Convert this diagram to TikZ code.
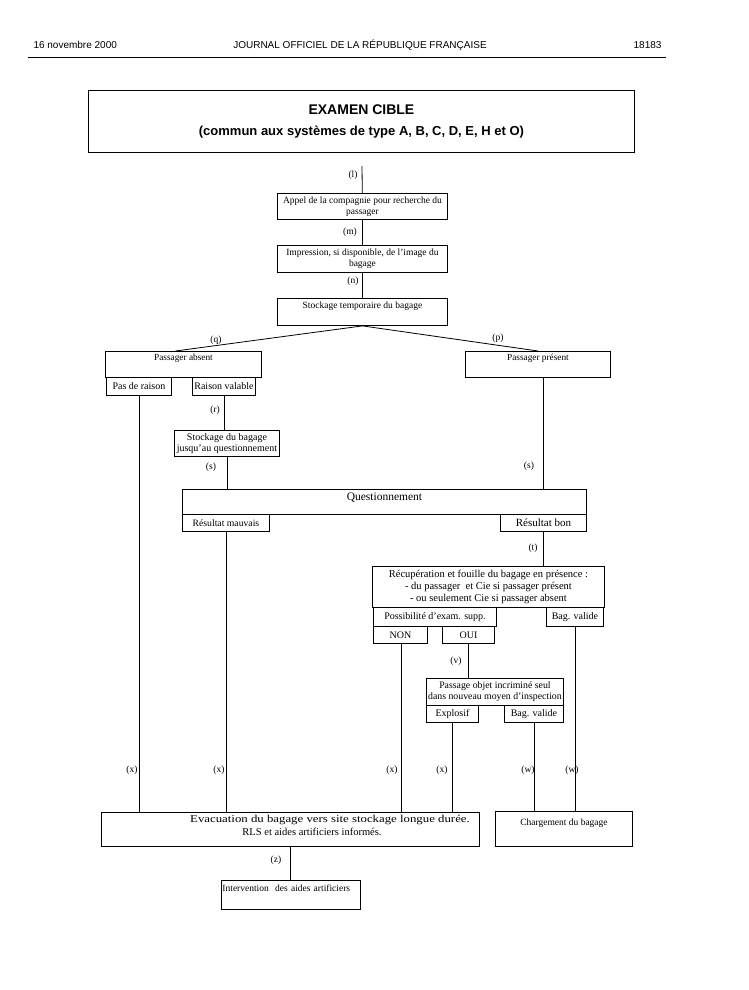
\documentclass[tikz,border=0pt]{standalone}
\usepackage{fontspec}
\setmainfont{Liberation Serif}
\setsansfont{Liberation Sans}
\newcommand\boxfont[1]{\fontsize{#1}{11}\selectfont}
\newcommand\labfont{\fontsize{9.5}{11}\selectfont}
\tikzset{
  box/.style={draw, line width=0.9pt, anchor=north west, inner sep=0.5pt,
    align=center, font=\boxfont{9.5}},
  lab/.style={font=\labfont, inner sep=0pt},
  link/.style={line width=0.8pt},
  entete/.style={font=\sffamily\fontsize{10}{12}\selectfont}
}
\begin{document}
\begin{tikzpicture}[x=1pt,y=-1pt]
  \useasboundingbox (0,0) rectangle (748,990);
  % en-tete de page
  \node[entete, anchor=west] (date) at (30,45) {16 novembre 2000};
  \node[entete] (journal) at (360,45) {JOURNAL OFFICIEL DE LA RÉPUBLIQUE FRANÇAISE};
  \node[entete, anchor=east] (page) at (665,45) {18183};
  \draw[line width=0.8pt] (28,57) -- (666,57);
  % titre
  \node[box, minimum width=546, minimum height=62, font=\sffamily\bfseries\fontsize{13}{21}\selectfont] (titre) at (88,90)
    {{\fontsize{14}{21}\selectfont EXAMEN CIBLE}\\(commun aux systèmes de type A, B, C, D, E, H et O)};
  % boites
  \node[box, minimum width=170, minimum height=26] (appel) at (277,193) {Appel de la compagnie pour recherche du\\passager};
  \node[box, minimum width=170, minimum height=27] (impression) at (277,245) {Impression, si disponible, de l'image du\\bagage};
  \node[box, minimum width=170, minimum height=27] (stockage) at (277,298) {Stockage temporaire du bagage\\\strut};
  \node[box, minimum width=156, minimum height=26, font=\boxfont{9.3}] (absent) at (105,351) {Passager absent\\\strut};
  \node[box, minimum width=65, minimum height=18, font=\boxfont{10}] (pasraison) at (106,377) {Pas de raison};
  \node[box, minimum width=63, minimum height=18, font=\boxfont{10}] (raisonval) at (192,377) {Raison valable};
  \node[box, minimum width=145, minimum height=26, font=\boxfont{9.3}] (present) at (465,351) {Passager présent\\\strut};
  \node[box, minimum width=105, minimum height=26, font=\boxfont{10}] (stockquest) at (174,430) {Stockage du bagage\\jusqu'au questionnement};
  \node[box, minimum width=404, minimum height=25, font=\fontsize{11.5}{12}\selectfont] (quest) at (182,489) {Questionnement\\[-5pt]\strut};
  \node[box, minimum width=87, minimum height=17, font=\boxfont{9.7}] (mauvais) at (182,514) {Résultat mauvais};
  \node[box, minimum width=86, minimum height=17, font=\boxfont{11}] (bon) at (500,514) {Résultat bon};
  \node[box, minimum width=232, minimum height=41, font=\fontsize{10.5}{12}\selectfont] (recup) at (372,566)
    {Récupération et fouille du bagage en présence :\\- du passager\ \ et Cie si passager présent\\- ou seulement Cie si passager absent};
  \node[box, minimum width=123, minimum height=19, font=\boxfont{10}] (possib) at (373,607) {Possibilité d'exam. supp.};
  \node[box, minimum width=57, minimum height=19, font=\boxfont{10}] (bagvalA) at (546,607) {Bag. valide};
  \node[box, minimum width=54, minimum height=17, font=\boxfont{10}] (non) at (373,626) {NON};
  \node[box, minimum width=52, minimum height=17, font=\boxfont{10}] (oui) at (442,626) {OUI};
  \node[box, minimum width=137, minimum height=27, font=\boxfont{9.8}] (passage) at (426,678) {Passage objet incriminé seul\\dans nouveau moyen d'inspection};
  \node[box, minimum width=52, minimum height=17, font=\boxfont{10}] (explosif) at (426,705) {Explosif};
  \node[box, minimum width=59, minimum height=17, font=\boxfont{10}] (bagvalB) at (504,705) {Bag. valide};
  \node[box, minimum width=378, minimum height=34] (evac) at (101,812) {};
  \node[font=\boxfont{10.5}, inner sep=0pt] (evacA) at (330,820) {\scalebox{1.22}[1]{Evacuation du bagage vers site stockage longue durée.}};
  \node[font=\boxfont{10.5}, inner sep=0pt] (evacB) at (312,832) {RLS et aides artificiers informés.};
  \node[box, minimum width=137, minimum height=35] (charg) at (495,811) {Chargement du bagage\\\strut};
  \node[box, minimum width=139, minimum height=29, align=left, text width=137] (interv) at (221,880) {Intervention\ \ des aides artificiers\\\strut};
  % depart libre
  \coordinate (depart) at (362,166);
  % liaisons
  \begin{scope}[link]
    \draw (depart) to (appel);
    \draw (appel) to (impression);
    \draw (impression) to (stockage);
    \draw (stockage.south) to ([xshift=-8pt]absent.north);
    \draw (stockage.south) to (present.north);
    \draw (pasraison) to (pasraison |- evac.north);
    \draw (raisonval) to (raisonval |- stockquest.north);
    \draw (stockquest) to (stockquest |- quest.north);
    \draw (present.south -| bon.north) to (bon.north |- quest.north);
    \draw (mauvais) to (mauvais |- evac.north);
    \draw (bon) to (bon |- recup.north);
    \draw ([xshift=1pt]non.south) to ([xshift=1pt]non.south |- evac.north);
    \draw (oui) to (oui |- passage.north);
    \draw (explosif) to (explosif |- evac.north);
    \draw (bagvalB) to (bagvalB |- charg.north);
    \draw (bagvalA) to (bagvalA |- charg.north);
    \draw (evac) to (evac |- interv.north);
  \end{scope}
  % etiquettes
  \node[lab] (ll) at (353,175) {(l)};
  \node[lab] (lm) at (350,232) {(m)};
  \node[lab] (ln) at (353,281) {(n)};
  \node[lab] (lq) at (216,340) {(q)};
  \node[lab] (lp) at (498,338) {(p)};
  \node[lab] (lr) at (215,410) {(r)};
  \node[lab] (lsA) at (211,467) {(s)};
  \node[lab] (lsB) at (529,466) {(s)};
  \node[lab] (lt) at (533,548) {(t)};
  \node[lab] (lv) at (456,661) {(v)};
  \node[lab] (lxA) at (132,770) {(x)};
  \node[lab] (lxB) at (219,770) {(x)};
  \node[lab] (lxC) at (392,770) {(x)};
  \node[lab] (lxD) at (442,770) {(x)};
  \node[lab] (lwA) at (528,770) {(w)};
  \node[lab] (lwB) at (572,770) {(w)};
  \node[lab] (lz) at (276,860) {(z)};
\end{tikzpicture}
\end{document}
